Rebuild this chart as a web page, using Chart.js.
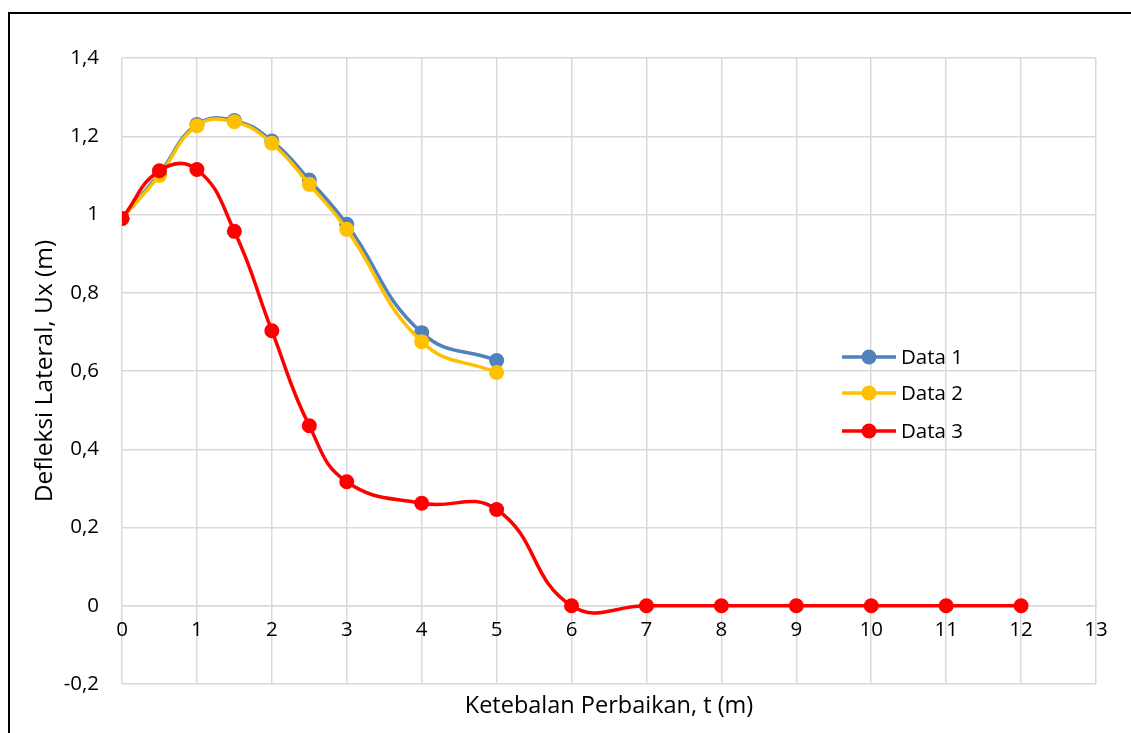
<!DOCTYPE html>
<html lang="id">
<head>
  <meta charset="UTF-8" />
  <title>Defleksi Lateral</title>
  <script src="https://cdn.jsdelivr.net/npm/chart.js"></script>
  <style>
    html, body { margin: 0; padding: 0; background: #fff; overflow: hidden; }
    #wrap { position: relative; width: 1131px; height: 733px; }
    #frame {
      position: absolute; left: 8px; top: 12px; width: 1200px; height: 800px;
      border: 2px solid #000; pointer-events: none;
    }
  </style>
</head>
<body>
  <div id="wrap">
    <canvas id="chart" width="1131" height="733"></canvas>
    <div id="frame"></div>
  </div>

  <script>
    const FONT = "'Open Sans', Lato, sans-serif";
    const FS = 20.5;   // ticks and legend
    const FT = 23.5;   // axis titles

    const tA = [0, 0.5, 1, 1.5, 2, 2.5, 3, 4, 5];
    const tB = [0, 0.5, 1, 1.5, 2, 2.5, 3, 4, 5, 6, 7, 8, 9, 10, 11, 12];
    const data1 = [0.99, 1.105, 1.23, 1.24, 1.188, 1.088, 0.975, 0.698, 0.627];
    const data2 = [0.99, 1.10, 1.227, 1.237, 1.182, 1.077, 0.962, 0.675, 0.596];
    const data3 = [0.99, 1.112, 1.115, 0.957, 0.703, 0.46, 0.317, 0.262, 0.246, 0, 0, 0, 0, 0, 0, 0];
    const names = ["Data 1", "Data 2", "Data 3"];
    const colors = ["#4f81bd", "#ffc000", "#ff0000"];

    const toXY = (xs, ys) => xs.map((x, i) => ({ x: x, y: ys[i] }));

    const fmt = v => (Math.round(v * 10) / 10).toString().replace(".", ",");

    // legend drawn like Excel: line with a marker in the middle
    const legendPlugin = {
      id: "excelLegend",
      afterDraw(chart) {
        const ctx = chart.ctx;
        const rows = [357, 393, 431];
        ctx.save();
        chart.data.datasets.forEach((ds, i) => {
          const y = rows[i];
          ctx.strokeStyle = ds.borderColor;
          ctx.lineWidth = 3.5;
          ctx.beginPath();
          ctx.moveTo(842, y);
          ctx.lineTo(896, y);
          ctx.stroke();
          ctx.fillStyle = ds.borderColor;
          ctx.beginPath();
          ctx.arc(869, y, 7.5, 0, Math.PI * 2);
          ctx.fill();
          ctx.fillStyle = "#000";
          ctx.font = FS + "px " + FONT;
          ctx.textBaseline = "middle";
          ctx.fillText(ds.label, 901, y + 1);
        });
        ctx.restore();
      }
    };

    const mk = (i, pts, order) => ({
      label: names[i],
      data: pts,
      borderColor: colors[i],
      backgroundColor: colors[i],
      pointBackgroundColor: colors[i],
      pointBorderColor: colors[i],
      borderWidth: 3.5,
      pointRadius: 7.5,
      pointBorderWidth: 0,
      tension: 0.45,
      order: order
    });

    new Chart(document.getElementById("chart"), {
      type: "line",
      data: {
        datasets: [
          mk(0, toXY(tA, data1), 3),
          mk(1, toXY(tA, data2), 2),
          mk(2, toXY(tB, data3), 1)
        ]
      },
      options: {
        responsive: false,
        animation: false,
        layout: { padding: { left: 0, top: 58, right: 35, bottom: 0 } },
        plugins: { legend: { display: false }, tooltip: { enabled: false } },
        scales: {
          x: {
            type: "linear", min: 0, max: 13,
            ticks: { display: false, stepSize: 1 },
            grid: { color: "#d9d9d9", lineWidth: 1.5, drawTicks: false },
            border: { display: false },
            title: {
              display: true, text: "Ketebalan Perbaikan, t (m)", color: "#000",
              font: { family: FONT, size: FT }, padding: { top: 12.5, bottom: 12.5 }
            },
            afterFit(s) { s.height = 49; }
          },
          x2: {
            type: "linear", min: 0, max: 13, position: { y: 0 },
            ticks: { stepSize: 1, color: "#000", padding: 12, font: { family: FONT, size: FS } },
            grid: { display: false, drawTicks: false },
            border: { color: "#d9d9d9", width: 1.5 }
          },
          y: {
            min: -0.2, max: 1.4,
            ticks: { stepSize: 0.2, color: "#000", padding: 23, font: { family: FONT, size: FS }, callback: v => fmt(v) },
            grid: { color: "#d9d9d9", lineWidth: 1.5, drawTicks: false },
            border: { display: false },
            title: {
              display: true, text: "Defleksi Lateral, Ux (m)", color: "#000",
              font: { family: FONT, size: 24.5 }, padding: { top: 30, bottom: 30 }
            },
            afterFit(s) { s.width = 122; }
          }
        }
      },
      plugins: [legendPlugin]
    });
  </script>
</body>
</html>
